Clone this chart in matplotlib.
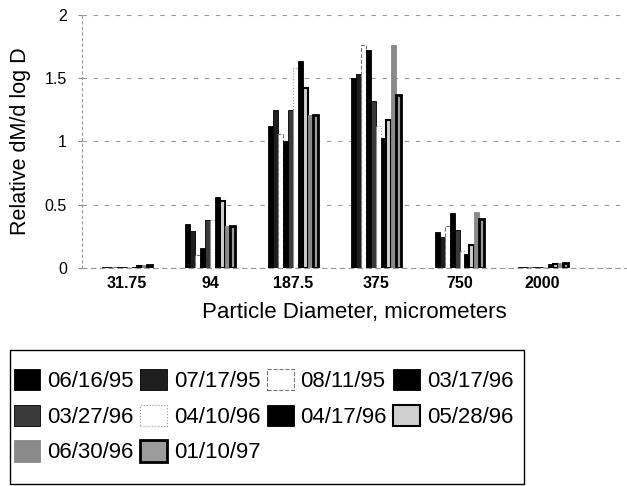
import numpy as np
import matplotlib.pyplot as plt
from matplotlib.patches import Patch, Rectangle

plt.rcParams['font.family'] = ['Liberation Sans', 'DejaVu Sans']

# particle size classes (micrometers)
sizes = ['31.75', '94', '187.5', '375', '750', '2000']
dates = ['06/16/95', '07/17/95', '08/11/95', '03/17/96', '03/27/96',
         '04/10/96', '04/17/96', '05/28/96', '06/30/96', '01/10/97']

# relative dM/d log D, one list per sampling date (values per size class)
d_061695 = [0.005, 0.35, 1.12, 1.50, 0.28, 0.005]
d_071795 = [0.005, 0.29, 1.25, 1.53, 0.245, 0.01]
d_081195 = [0.005, 0.10, 1.06, 1.76, 0.33, 0.008]
d_031796 = [0.003, 0.16, 1.00, 1.72, 0.43, 0.005]
d_032796 = [0.003, 0.38, 1.25, 1.32, 0.30, 0.005]
d_041096 = [0.006, 0.38, 1.58, 1.12, 0.13, 0.004]
d_041796 = [0.010, 0.56, 1.64, 1.03, 0.11, 0.03]
d_052896 = [0.012, 0.53, 1.42, 1.17, 0.18, 0.03]
d_063096 = [0.025, 0.33, 1.21, 1.76, 0.44, 0.04]
d_011097 = [0.025, 0.33, 1.21, 1.37, 0.39, 0.04]
series = [d_061695, d_071795, d_081195, d_031796, d_032796,
          d_041096, d_041796, d_052896, d_063096, d_011097]

# (face, edge, linewidth, linestyle)
styles = [
    ('black', 'black', 0.6, '-'),
    ('#1e1e1e', 'black', 0.6, '-'),
    ('white', '#777777', 0.8, '--'),
    ('black', 'black', 0.6, '-'),
    ('#3a3a3a', 'black', 0.6, '-'),
    ('white', '#999999', 0.8, ':'),
    ('black', 'black', 0.6, '-'),
    ('#d0d0d0', 'black', 1.5, '-'),
    ('#8a8a8a', '#8a8a8a', 0.6, '-'),
    ('#9c9c9c', 'black', 2.0, '-'),
]

fig = plt.figure(figsize=(6.27, 4.86), dpi=100)
ax = fig.add_axes([0.131, 0.449, 0.867, 0.52])

x = np.arange(len(sizes))
n = len(series)
w = 0.06
for i, (vals, st) in enumerate(zip(series, styles)):
    face, edge, lw, ls = st
    ax.bar(x + (i - (n - 1) / 2) * w, vals, width=w, color=face,
           edgecolor=edge, linewidth=lw, linestyle=ls)

ax.set_xlim(-0.54, 6.0)
ax.set_ylim(0, 2)
ax.set_yticks([0, 0.5, 1, 1.5, 2])
ax.set_yticklabels(['0', '0.5', '1', '1.5', '2'], fontsize=11.5)
ax.set_xticks(x)
ax.set_xticklabels(sizes, fontsize=11.5, fontweight='bold')
ax.tick_params(axis='x', length=0, pad=6)
ax.tick_params(axis='y', length=3, color='#888888', pad=8)
ax.yaxis.grid(True, linestyle=(0, (4, 6)), color='#999999', linewidth=0.8)
ax.set_axisbelow(True)
for s in ['top', 'right']:
    ax.spines[s].set_visible(False)
ax.spines['left'].set_color('#999999')
ax.spines['left'].set_linestyle((0, (2, 3)))
ax.spines['bottom'].set_color('#999999')
ax.spines['bottom'].set_linestyle((0, (4, 4)))

ax.set_ylabel('Relative dM/d log D', fontsize=15.5, labelpad=10)
ax.set_xlabel('Particle Diameter, micrometers', fontsize=16, labelpad=8)

handles = [Patch(facecolor=st[0], edgecolor=st[1], linewidth=st[2],
                 linestyle=st[3], label=d) for d, st in zip(dates, styles)]
# legend fills column by column; reorder so entries read across rows
order = [0, 4, 8, 1, 5, 9, 2, 6, 3, 7]
leg = fig.legend(handles=[handles[k] for k in order], loc='upper left',
                 bbox_to_anchor=(0.022, 0.241), ncol=4, fontsize=16,
                 frameon=False, handlelength=1.2, handleheight=1.1,
                 handletextpad=0.3, columnspacing=0.3, labelspacing=0.56,
                 borderpad=0, borderaxespad=0)

# box round the legend
fig.patches.append(Rectangle((0.016, 0.004), 0.82, 0.276,
                             transform=fig.transFigure, fill=False,
                             edgecolor='black', linewidth=1.0))

fig.savefig('out.png', dpi=100)
